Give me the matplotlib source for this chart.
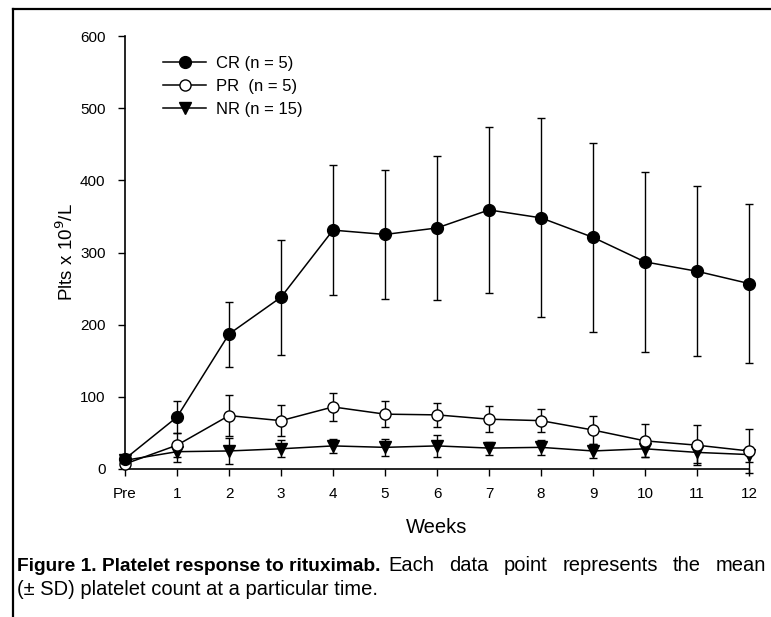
import matplotlib
matplotlib.use("Agg")
import matplotlib.pyplot as plt
from matplotlib.lines import Line2D
import numpy as np

# ---- data ----
tick_labels = ["Pre", "1", "2", "3", "4", "5", "6", "7", "8", "9", "10", "11", "12"]
weeks = list(range(13))

cr_mean = [14, 72, 187, 238, 331, 325, 334, 359, 348, 321, 287, 274, 257]
cr_sd   = [0, 22, 45, 80, 90, 90, 100, 115, 138, 131, 125, 118, 110]

pr_mean = [7, 33, 74, 67, 86, 76, 75, 69, 67, 54, 39, 33, 25]
pr_sd   = [0, 17, 28, 21, 20, 18, 17, 18, 16, 20, 23, 28, 31]

nr_mean = [12, 24, 25, 28, 32, 30, 32, 29, 30, 25, 28, 23, 20]
nr_sd   = [0, 14, 18, 12, 10, 12, 15, 9, 10, 10, 12, 14, 10]

labels = ["CR (n = 5)", "PR  (n = 5)", "NR (n = 15)"]

reg = ["Liberation Sans", "DejaVu Sans"]

W, H = 771, 617
fig = plt.figure(figsize=(W / 100, H / 100), dpi=100)

ax = fig.add_axes([125 / W, (H - 469) / H, 624 / W, 433 / H])

common = dict(color="black", linewidth=1.1, capsize=3, elinewidth=1.0,
              capthick=1.0, clip_on=False)
ax.errorbar(weeks, nr_mean, yerr=nr_sd, marker="v", markersize=8,
            markerfacecolor="black", markeredgecolor="black", zorder=3, **common)
ax.errorbar(weeks, pr_mean, yerr=pr_sd, marker="o", markersize=8,
            markerfacecolor="white", markeredgecolor="black", zorder=4, **common)
ax.errorbar(weeks, cr_mean, yerr=cr_sd, marker="o", markersize=8.5,
            markerfacecolor="black", markeredgecolor="black", zorder=5, **common)

ax.set_xlim(0, 12)
ax.set_ylim(0, 600)
ax.set_xticks(weeks)
ax.set_xticklabels(tick_labels, family=reg, fontsize=11)
ax.set_yticks([0, 100, 200, 300, 400, 500, 600])
ax.set_yticklabels(["0", "100", "200", "300", "400", "500", "600"],
                   family=reg, fontsize=11)
ax.tick_params(direction="out", length=5, width=1, colors="black")
ax.tick_params(axis="y", pad=9)
ax.tick_params(axis="x", pad=8)
for s in ["top", "right"]:
    ax.spines[s].set_visible(False)
for s in ["left", "bottom"]:
    ax.spines[s].set_linewidth(1.2)

ax.set_xlabel("Weeks", family=reg, fontsize=14.5, labelpad=12)
ax.set_ylabel("Plts x 10$^9$/L", family=reg, fontsize=13.5, labelpad=2)

handles = [
    Line2D([], [], color="black", lw=1.1, marker="o", markersize=8.5,
           markerfacecolor="black", markeredgecolor="black"),
    Line2D([], [], color="black", lw=1.1, marker="o", markersize=8,
           markerfacecolor="white", markeredgecolor="black"),
    Line2D([], [], color="black", lw=1.1, marker="v", markersize=8,
           markerfacecolor="black", markeredgecolor="black"),
]
ax.legend(handles, labels, loc="upper left",
          bbox_to_anchor=((163 - 125) / 624, (469 - 56) / 433),
          frameon=False, borderpad=0, borderaxespad=0, handlelength=2.6,
          handletextpad=0.6, labelspacing=0.48,
          prop={"family": reg, "size": 12})

# frame lines (left and top)
fig.add_artist(Line2D([13 / W, 13 / W], [0, (H - 9) / H],
                      transform=fig.transFigure, color="black", lw=1.6))
fig.add_artist(Line2D([13 / W, 1], [(H - 9) / H, (H - 9) / H],
                      transform=fig.transFigure, color="black", lw=1.6))

# caption
bold_size = 13.8
reg_size = 14.5
y1 = (H - 571) / H
t1 = fig.text(17 / W, y1, "Figure 1. Platelet response to rituximab.",
              family=reg, fontsize=bold_size, fontweight="bold",
              va="baseline", ha="left")
fig.canvas.draw()
r = fig.canvas.get_renderer()
x = t1.get_window_extent(r).x1 + 8
words = "Each data point represents the mean".split()
target_end = 766
widths = []
tmp = []
for w in words:
    t = fig.text(0, y1, w, family=reg, fontsize=reg_size, va="baseline", ha="left")
    tmp.append(t)
    widths.append(t.get_window_extent(r).width)
gap = (target_end - x - sum(widths)) / (len(words) - 1)
for t, wd in zip(tmp, widths):
    t.set_x(x / W)
    x += wd + gap
fig.text(17 / W, (H - 595) / H, "(\u00b1 SD) platelet count at a particular time.",
         family=reg, fontsize=reg_size, va="baseline", ha="left")

fig.savefig("out.png", dpi=100)
